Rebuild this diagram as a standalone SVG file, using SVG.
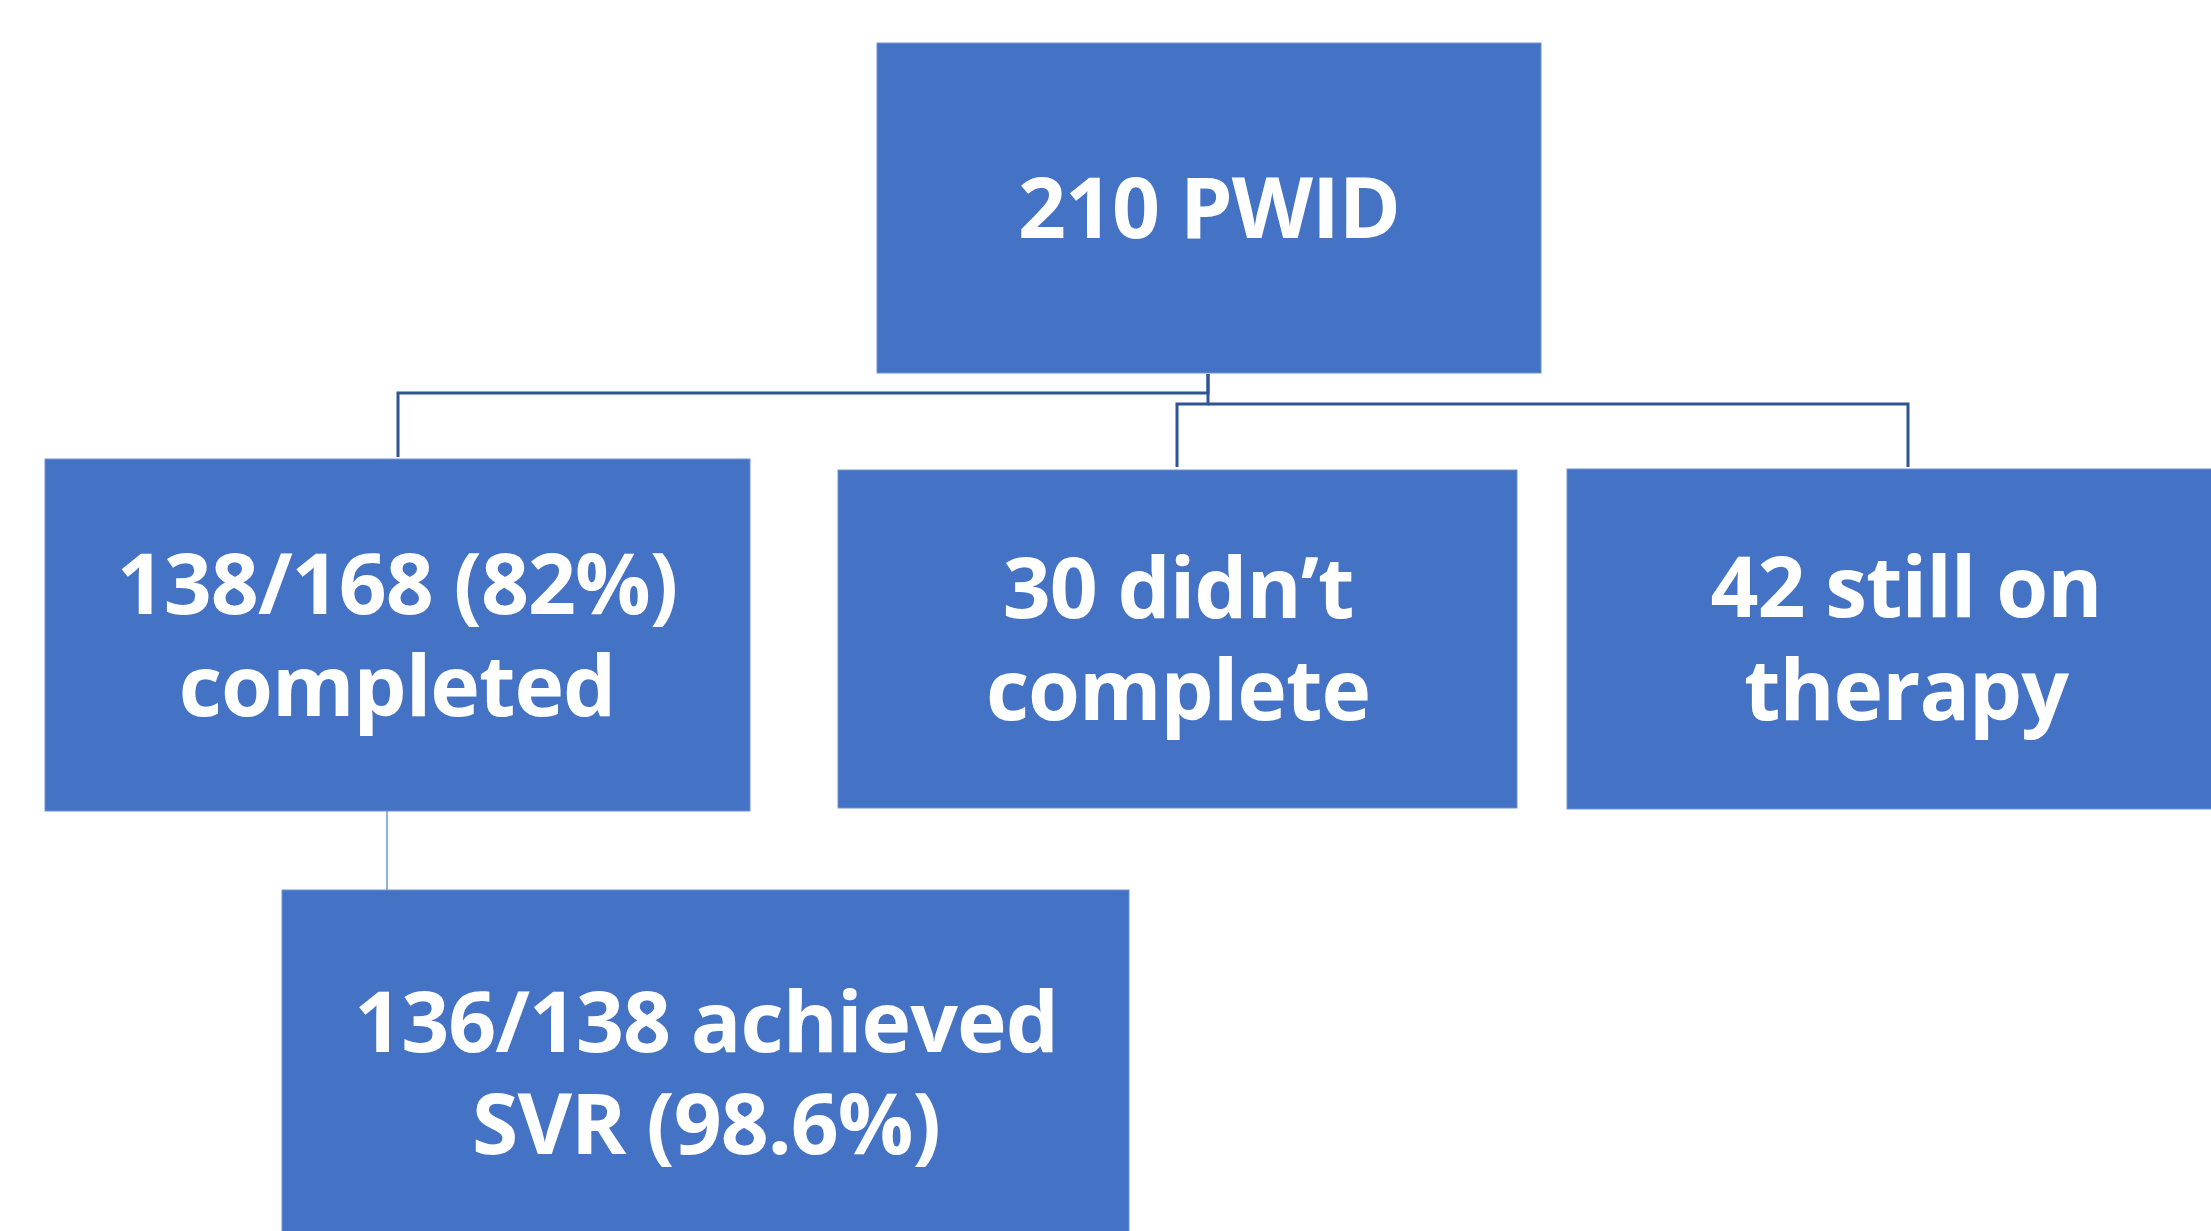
<svg xmlns="http://www.w3.org/2000/svg" width="2211" height="1231" viewBox="0 0 2211 1231">
<style>
.box{fill:#4472C4;stroke:#6F93D6;stroke-width:1}
.t{font-family:"Open Sans","Noto Sans","DejaVu Sans",sans-serif;font-weight:700;font-size:84px;letter-spacing:-1px;fill:#FFFFFF;text-anchor:middle}
.c{fill:none;stroke:#2F5597;stroke-width:3}
.c2{fill:none;stroke:#6F93D6;stroke-width:1.5}
</style>
<rect width="2211" height="1231" fill="#FFFFFF"/>
<g id="connectors">
<path class="c" d="M1208,374 V393 H398 V457"/>
<path class="c" d="M1208,374 V404 H1177 V467"/>
<path class="c" d="M1208,404 H1908 V467"/>
<path class="c2" d="M387,811 V890"/>
</g>
<g id="n_top">
<rect class="box" x="877" y="43" width="664" height="330"/>
<text class="t" x="1209" y="238">210 PWID</text>
</g>
<g id="n_completed">
<rect class="box" x="45" y="459" width="705" height="352"/>
<text class="t" x="397" y="614">138/168 (82%)</text>
<text class="t" x="397" y="716">completed</text>
</g>
<g id="n_notcomplete">
<rect class="box" x="838" y="470" width="679" height="338"/>
<text class="t" x="1178" y="618">30 didn’t</text>
<text class="t" x="1178" y="720">complete</text>
</g>
<g id="n_ontherapy">
<rect class="box" x="1567" y="469" width="700" height="340"/>
<text class="t" x="1906" y="617">42 still on</text>
<text class="t" x="1906" y="720">therapy</text>
</g>
<g id="n_svr">
<rect class="box" x="282" y="890" width="847" height="360"/>
<text class="t" x="706" y="1052">136/138 achieved</text>
<text class="t" x="706" y="1154">SVR (98.6%)</text>
</g>
</svg>
